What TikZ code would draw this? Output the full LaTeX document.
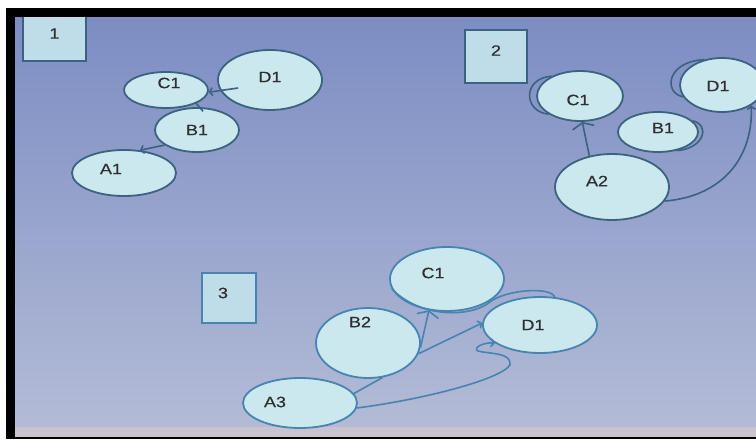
\documentclass[tikz,border=0pt]{standalone}
\usepackage{fontspec}
\setmainfont{Liberation Sans}[FakeStretch=1.2,FakeBold=0.5]
\usetikzlibrary{arrows.meta,shapes.geometric}
\definecolor{bgtop}{HTML}{7C8DC3}
\definecolor{bgmid}{HTML}{A0B5E3}
\definecolor{bgbot}{HTML}{B3BBD6}
\definecolor{nodefill}{HTML}{CCE8EF}
\definecolor{lineA}{HTML}{3B6380}
\definecolor{lineB}{HTML}{4884B0}
\definecolor{boxfill}{HTML}{BEDDE8}
\definecolor{txt}{HTML}{2F2F2F}
\definecolor{strip}{HTML}{C9C3CD}
\begin{document}
\begin{tikzpicture}[x=1pt,y=-1pt,
  lbl/.style={font=\fontsize{15}{15}\selectfont, text=txt, inner sep=0pt},
  ell/.style={ellipse, draw=lineA, fill=nodefill, line width=1.8pt, inner sep=0pt},
  ellb/.style={ell, draw=lineB},
  boxnode/.style={rectangle, draw=lineA, fill=boxfill, line width=1.5pt, inner sep=0pt},
  conn/.style={draw=lineA, line width=1.6pt},
  connb/.style={draw=lineB, line width=1.6pt},
  widebarb/.style={-{Straight Barb[length=5pt,width=22pt]}},
  smallbarb/.style={-{Straight Barb[length=3pt,width=8pt]}}
]
\useasboundingbox (0,0) rectangle (756,441);
\clip (0,0) rectangle (756,441);
\fill[white] (0,0) rectangle (756,441);
\shade[top color=bgtop, middle color=bgmid, bottom color=bgbot] (15,17) rectangle (756,427);
\fill[strip] (15,427) rectangle (756,437);

% boxes
\node[boxnode, minimum width=63pt, minimum height=51pt, label={[lbl,yshift=2pt]center:1}] (box1) at (54.5,35.5) {};
\node[boxnode, minimum width=62pt, minimum height=53pt, label={[lbl,yshift=6pt]center:2}] (box2) at (496,56.5) {};
\node[boxnode, draw=lineB, minimum width=54pt, minimum height=50pt, label={[lbl,xshift=-6pt,yshift=5pt]center:3}] (box3) at (229,298) {};

% panel 1
\node[ell, minimum width=84pt, minimum height=36pt, label={[lbl,xshift=3pt,yshift=7pt]center:C1}] (c1) at (166,90) {};
\node[ell, minimum width=104pt, minimum height=60pt, label={[lbl,yshift=3pt]center:D1}] (d1) at (270,80) {};
\node[ell, minimum width=84pt, minimum height=44pt, label={[lbl]center:B1}] (b1) at (197,130) {};
\node[ell, minimum width=104pt, minimum height=46pt, label={[lbl,xshift=-13pt,yshift=4pt]center:A1}] (a1) at (124,173) {};

% panel 2
\node[ell, minimum width=86pt, minimum height=50pt, label={[lbl,xshift=-2pt,yshift=-4pt]center:C1}] (c2) at (580,96) {};
\node[ell, minimum width=84pt, minimum height=54pt, label={[lbl,xshift=-4pt,yshift=-1pt]center:D1}] (d2) at (722,85) {};
\node[ell, minimum width=80pt, minimum height=40pt, label={[lbl,xshift=5pt,yshift=4pt]center:B1}] (b2) at (658,132) {};
\node[ell, minimum width=114pt, minimum height=66pt, label={[lbl,xshift=-15pt,yshift=6pt]center:A2}] (a2) at (612,187) {};

% panel 3
\node[ellb, minimum width=114pt, minimum height=64pt, label={[lbl,xshift=-14pt,yshift=6pt]center:C1}] (c3) at (447,279) {};
\node[ellb, minimum width=104pt, minimum height=70pt, label={[lbl,xshift=-8pt,yshift=21pt]center:B2}] (bb3) at (368,343) {};
\node[ellb, minimum width=114pt, minimum height=56pt, label={[lbl,xshift=-7pt]center:D1}] (d3) at (540,325) {};
\node[ellb, minimum width=114pt, minimum height=50pt, label={[lbl,xshift=-25pt,yshift=1pt]center:A3}] (a3) at (300,403) {};

% connectors panel 1
\draw[conn, {Straight Barb[length=3pt,width=8pt]}-] (a1.55) -- (b1.205);
\draw[conn, smallbarb] ([xshift=21pt,yshift=-8pt]d1.west) -- (c1.-3);
\draw[conn] ([yshift=-4pt]b1.75) -- (c1.-24);

% connectors panel 2
\draw[conn, widebarb] (a2.126) -- (c2.-85);
\draw[conn, smallbarb] (a2.-15) .. controls +(60,-5) and +(2,50) .. (d2.-35);
\draw[conn] (c2.145) .. controls +(-30,2) and +(-25,-2) .. (c2.210);
\draw[conn] (d2.125) .. controls +(-38,2) and +(-20,-4) .. (d2.197);
\draw[conn] (b2.18) .. controls +(18,4) and +(28,-2) .. (b2.-45);

% connectors panel 3
\draw[connb] (a3.10) -- (bb3.-67);
\draw[connb, widebarb] (bb3.-5) -- (c3.-120);
\draw[connb, smallbarb] (bb3.-12) -- (d3.178);
\draw[connb, smallbarb] (a3.-5) .. controls (420,400) and (500,380) .. (510,365)
   .. controls (512,352) and (488,354) .. (478,351)
   .. controls (472,348) and (484,342) .. (d3.-158);
\draw[connb] (c3.-170) .. controls (420,318) and (470,318) .. (490,302)
   .. controls (505,290) and (550,286) .. (d3.62);

% screen frame
\fill[black] (6,8) rectangle (756,17);
\fill[black] (6,8) rectangle (15,439);
\fill[black] (6,437) rectangle (756,439);
\end{tikzpicture}
\end{document}
